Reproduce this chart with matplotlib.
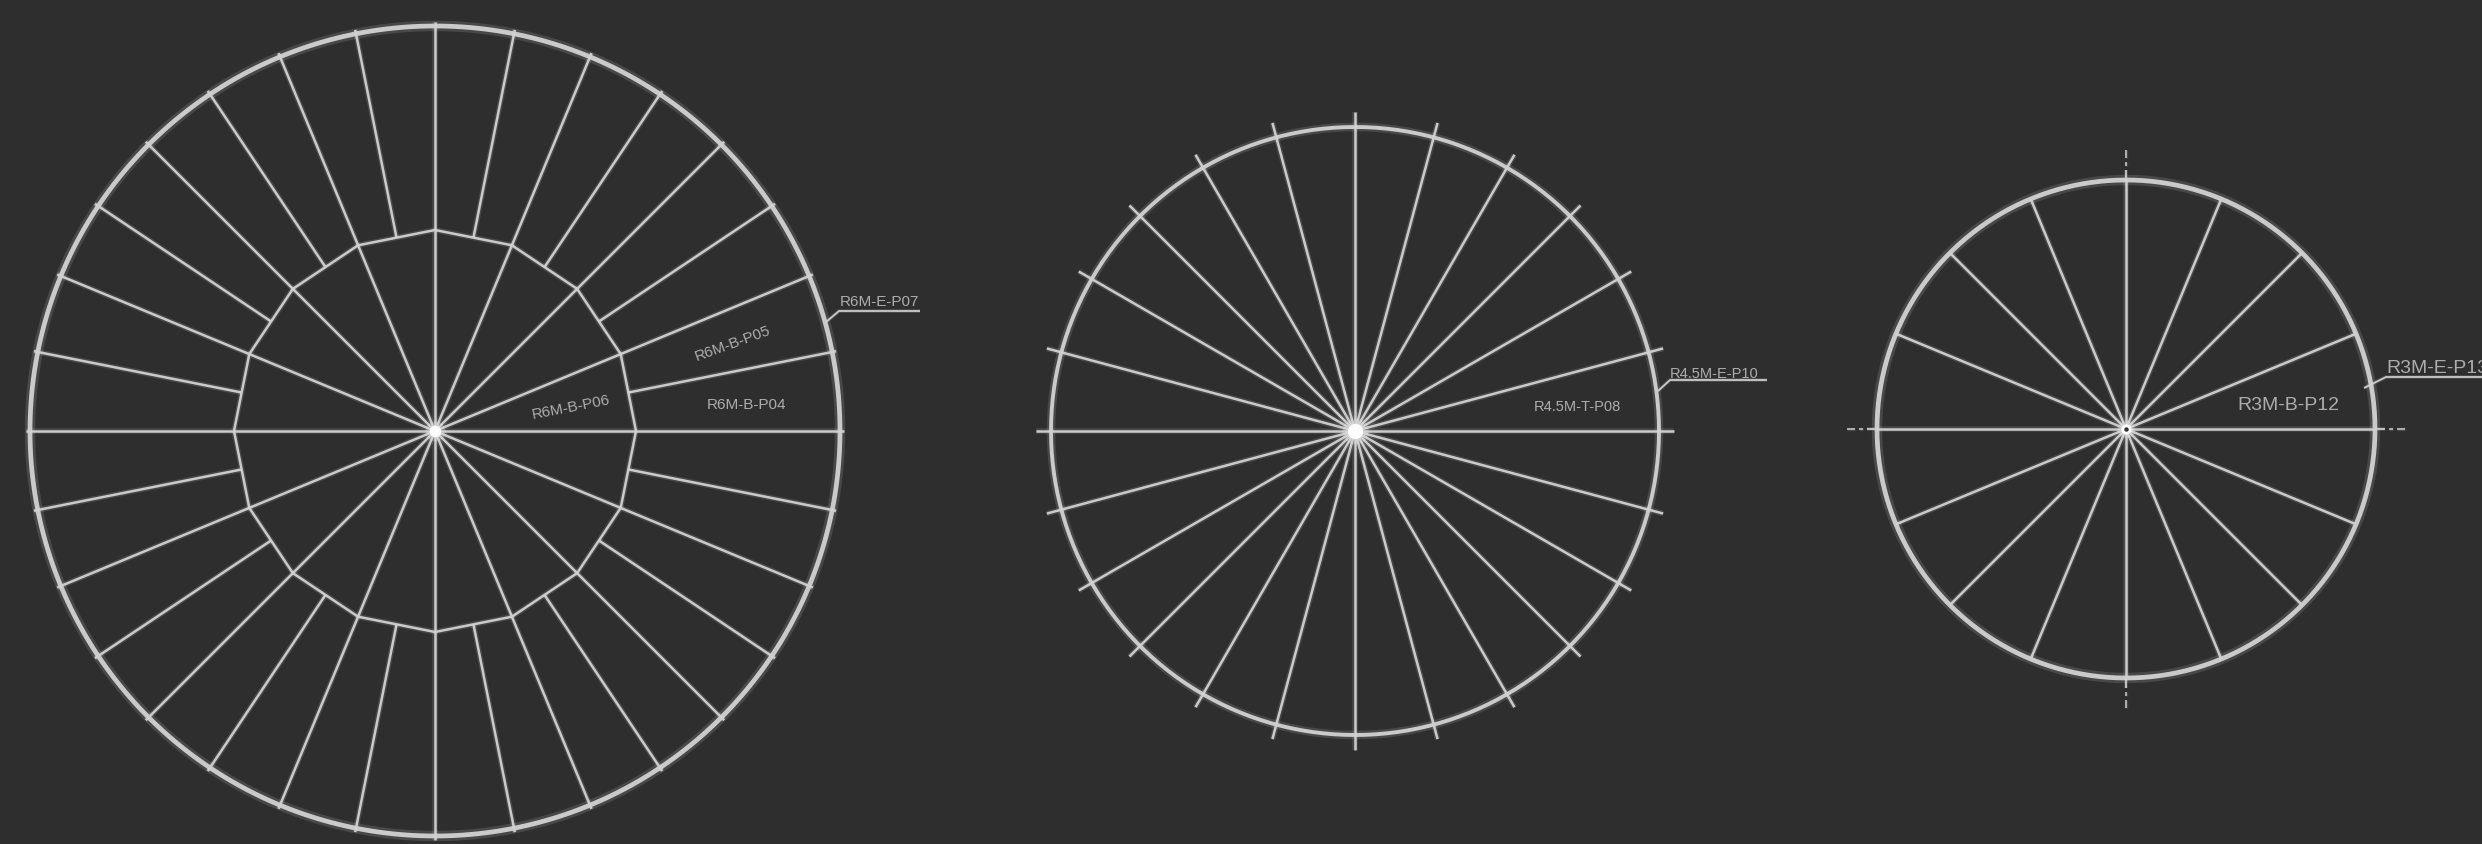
import numpy as np
import matplotlib
matplotlib.use("Agg")
import matplotlib.pyplot as plt

BG = "#2e2e2e"
LINE = "#d2d2d2"
TEXT = "#b4b4b4"

# drawing data (px units of the sheet)
outer_radii = [405, 304, 249]
inner_radius = 201
main_spokes = [16, 24, 16]
sec_spokes = 16
spoke_overrun = [4, 15, 0]
outer_lw = [3.4, 2.8, 3.4]

labels_1 = ["R6M-B-P05", "R6M-B-P04", "R6M-B-P06"]
labels_2 = ["R4.5M-T-P08"]
labels_3 = ["R3M-B-P12"]
callouts = ["R6M-E-P07", "R4.5M-E-P10", "R3M-E-P13"]

centers = [(435, 431), (1355, 431), (2126, 429)]

fig = plt.figure(figsize=(24.82, 8.44), dpi=100, facecolor=BG)
ax = fig.add_axes([0, 0, 1, 1])
ax.set_xlim(0, 2482)
ax.set_ylim(844, 0)
ax.axis("off")

FONT = "Liberation Sans"


def stroke(x, y, lw=1.8, color=LINE, **kw):
    ax.plot(x, y, color=color, lw=lw * 2.2, alpha=0.16, solid_capstyle="butt", **kw)
    ax.plot(x, y, color=color, lw=lw, alpha=0.95, solid_capstyle="butt", **kw)


def polar(c, r, deg):
    t = np.deg2rad(deg)
    return c[0] + r * np.cos(t), c[1] - r * np.sin(t)


def spoke(c, r0, r1, deg, **kw):
    x0, y0 = polar(c, r0, deg)
    x1, y1 = polar(c, r1, deg)
    stroke([x0, x1], [y0, y1], **kw)


def ring(c, r, lw):
    t = np.linspace(0, 360, 361)
    x, y = polar(c, r, t)
    stroke(x, y, lw=lw)


def hub(c, size=70):
    ax.scatter(*c, s=size * 3, color="white", alpha=0.18, linewidths=0, zorder=5)
    ax.scatter(*c, s=size, color="white", alpha=0.95, linewidths=0, zorder=6)


# wheel 1
c = centers[0]
ring(c, outer_radii[0], outer_lw[0])
for k in range(main_spokes[0]):
    spoke(c, 0, outer_radii[0] + spoke_overrun[0], k * 360 / main_spokes[0])
apo = inner_radius * np.cos(np.pi / sec_spokes)
for k in range(sec_spokes):
    spoke(c, apo, outer_radii[0] + spoke_overrun[0], (k + 0.5) * 360 / sec_spokes)
t = np.arange(sec_spokes + 1) * 360 / sec_spokes
x, y = polar(c, inner_radius, t)
stroke(x, y, lw=1.8)
hub(c)

# wheel 2
c = centers[1]
ring(c, outer_radii[1], outer_lw[1])
for k in range(main_spokes[1]):
    spoke(c, 0, outer_radii[1] + spoke_overrun[1], k * 360 / main_spokes[1])
hub(c, 120)

# wheel 3
c = centers[2]
ring(c, outer_radii[2], outer_lw[2])
for k in range(main_spokes[2]):
    spoke(c, 0, outer_radii[2], k * 360 / main_spokes[2])
for deg in (0, 90, 180, 270):
    spoke(c, outer_radii[2], outer_radii[2] + 10, deg, lw=1.3)
    spoke(c, outer_radii[2] + 14, outer_radii[2] + 18, deg, lw=1.1)
    spoke(c, outer_radii[2] + 22, outer_radii[2] + 30, deg, lw=1.1)
hub(c, 55)
ax.scatter(*c, s=10, color=BG, linewidths=0, zorder=7)


def label(x, y, s, rot=0, size=11, color=TEXT):
    ax.text(x, y, s, color=color, fontsize=size, rotation=rot, ha="center", va="center",
            family=FONT, rotation_mode="anchor", alpha=0.95, clip_on=True)


label(733, 344, labels_1[0], 20)
label(746, 405, labels_1[1], 0)
label(571, 407, labels_1[2], 11)
label(1577, 407, labels_2[0], 0, 10.5)
label(2288, 405, labels_3[0], 0, 14)


def callout(tx, ty, s, x0, x1, yu, xl, yl, size=11):
    ax.text(tx, ty, s, color=TEXT, fontsize=size, ha="left", va="bottom", family=FONT, alpha=0.95)
    stroke([xl, x0, x1], [yl, yu, yu], lw=1.3)


callout(840, 309, callouts[0], 839, 920, 311, 826, 322)
callout(1670, 381, callouts[1], 1670, 1767, 380, 1658, 391, 10.5)
callout(2386, 377, callouts[2], 2386, 2482, 377, 2364, 388, 14)

fig.savefig("out.png", dpi=100, facecolor=BG)
